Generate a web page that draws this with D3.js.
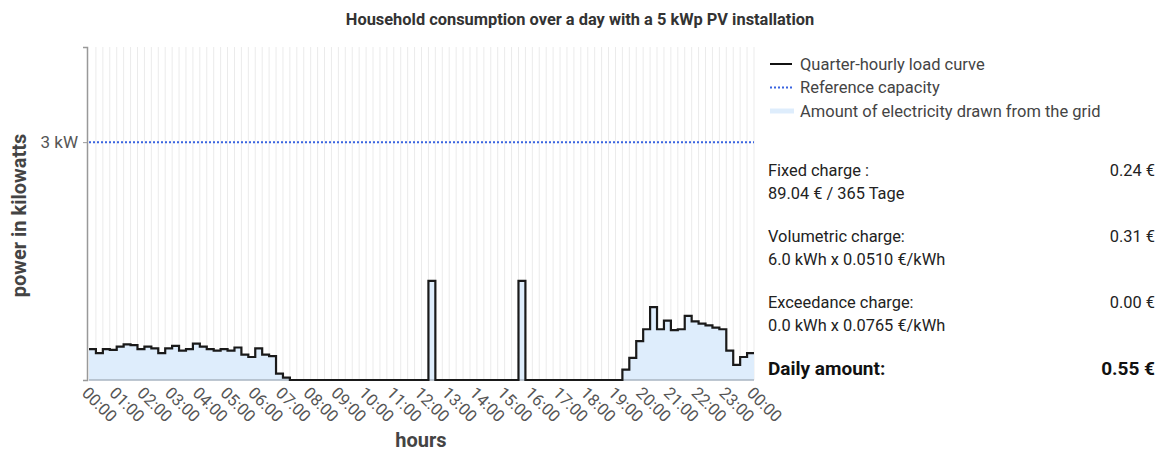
<!DOCTYPE html>
<html>
<head>
<meta charset="utf-8">
<script src="https://cdn.jsdelivr.net/npm/d3@7"></script>
<style>
  body { margin: 0; background: #fff; font-family: Roboto, "Noto Sans", sans-serif; }
  svg text { font-family: Roboto, "Noto Sans", sans-serif; }
</style>
</head>
<body>
<div id="chart"></div>
<script>
///////////// Data /////////////////

// quarter-hourly load in kW, 96 values from 00:00 to 23:45
const load = [
  0.39, 0.34, 0.39, 0.38, 0.42, 0.45, 0.44, 0.39, 0.42, 0.40, 0.34, 0.40, 0.43, 0.37, 0.39, 0.46,
  0.42, 0.39, 0.37, 0.39, 0.37, 0.41, 0.32, 0.29, 0.40, 0.32, 0.30, 0.08, 0.03, 0, 0, 0,
  0, 0, 0, 0, 0, 0, 0, 0, 0, 0, 0, 0, 0, 0, 0, 0,
  0, 1.25, 0, 0, 0, 0, 0, 0, 0, 0, 0, 0, 0, 0, 1.25, 0,
  0, 0, 0, 0, 0, 0, 0, 0, 0, 0, 0, 0, 0, 0.13, 0.28, 0.49,
  0.64, 0.92, 0.64, 0.75, 0.63, 0.64, 0.81, 0.74, 0.71, 0.69, 0.66, 0.64, 0.37, 0.19, 0.29, 0.34
];
const referenceCapacity = 3;
const hourLabels = d3.range(25).map(h => String(h % 24).padStart(2, "0") + ":00");

const legendItems = ["Quarter-hourly load curve", "Reference capacity", "Amount of electricity drawn from the grid"];
const chargeNames = ["Fixed charge :", "Volumetric charge:", "Exceedance charge:"];
const chargeDetails = ["89.04 € / 365 Tage", "6.0 kWh x 0.0510 €/kWh", "0.0 kWh x 0.0765 €/kWh"];
const chargeValues = ["0.24 €", "0.31 €", "0.00 €"];
const totalLabel = "Daily amount:";
const totalValue = "0.55 €";

///////////// Chart /////////////////

const width = 1160, height = 452;
const margin = { top: 47, left: 89, right: 754, bottom: 380 };

let svg = d3.select("#chart")
  .append("svg")
  .attr("width", width)
  .attr("height", height);

let x = d3.scaleLinear().domain([0, 96]).range([margin.left, margin.right]);
let y = d3.scaleLinear().domain([0, 4.2]).range([margin.bottom, margin.top]);

// title
svg.append("text")
  .attr("x", 580).attr("y", 25)
  .attr("text-anchor", "middle")
  .style("font-size", "16.4px").style("font-weight", "bold")
  .style("fill", "#333")
  .text("Household consumption over a day with a 5 kWp PV installation");

// vertical grid, one per quarter hour
svg.append("g")
  .selectAll("line")
  .data(d3.range(1, 97))
  .enter()
  .append("line")
  .attr("x1", d => x(d)).attr("x2", d => x(d))
  .attr("y1", margin.top).attr("y2", margin.bottom)
  .attr("stroke", "#ebebeb")
  .attr("stroke-width", 1);

// points for the step curve (repeat last value to close the day)
let pts = load.map((v, i) => [i, v]);
pts.push([96, load[load.length - 1]]);

let area = d3.area()
  .curve(d3.curveStepAfter)
  .x(d => x(d[0]))
  .y0(y(0))
  .y1(d => y(d[1]));

svg.append("path")
  .datum(pts)
  .attr("d", area)
  .attr("fill", "#deedfc");

// x axis baseline
svg.append("line")
  .attr("x1", x(0)).attr("x2", x(96))
  .attr("y1", y(0)).attr("y2", y(0))
  .attr("stroke", "#a9b4c2").attr("stroke-width", 1.5);

let line = d3.line()
  .curve(d3.curveStepAfter)
  .x(d => x(d[0]))
  .y(d => y(d[1]));

svg.append("path")
  .datum(pts)
  .attr("d", line)
  .attr("fill", "none")
  .attr("stroke", "#1a1a1a")
  .attr("stroke-width", 2.2);

// reference capacity
svg.append("line")
  .attr("x1", x(0)).attr("x2", x(96))
  .attr("y1", y(referenceCapacity)).attr("y2", y(referenceCapacity))
  .attr("stroke", "#3a64e0")
  .attr("stroke-width", 2)
  .attr("stroke-dasharray", "2,2");

// y axis
let yAxis = d3.axisLeft(y)
  .tickValues([0, referenceCapacity])
  .tickFormat(d => d === 0 ? "" : d + " kW")
  .tickSize(4)
  .tickPadding(5);

let yg = svg.append("g")
  .attr("transform", `translate(${margin.left - 2},0)`)
  .call(yAxis);
yg.select(".domain").attr("stroke", "#999").attr("stroke-width", 1.5);
yg.selectAll(".tick line").attr("stroke", "#999");
yg.selectAll("text").style("font-size", "17px").style("fill", "#555")
  .style("font-family", "Roboto, sans-serif");

// x axis labels, every hour, rotated
svg.append("g")
  .selectAll("text")
  .data(hourLabels)
  .enter()
  .append("text")
  .attr("transform", (d, i) => `translate(${x(i * 4) - 4},${margin.bottom + 10}) rotate(45)`)
  .attr("text-anchor", "start")
  .attr("dy", "0.35em")
  .style("font-size", "16.5px")
  .style("fill", "#555")
  .text(d => d);

// axis titles
svg.append("text")
  .attr("x", 421).attr("y", 447)
  .attr("text-anchor", "middle")
  .style("font-size", "20px").style("font-weight", "bold").style("fill", "#444")
  .text("hours");

svg.append("text")
  .attr("transform", `translate(26,${(margin.top + margin.bottom) / 2 + 2}) rotate(-90)`)
  .attr("text-anchor", "middle")
  .style("font-size", "20px").style("font-weight", "bold").style("fill", "#444")
  .text("power in kilowatts");

///////////// Legend /////////////////

let legend = svg.append("g").attr("transform", "translate(770,64)");
legendItems.forEach((label, i) => {
  let g = legend.append("g").attr("transform", `translate(0,${i * 23.5})`);
  if (i === 0) {
    g.append("line").attr("x1", 0).attr("x2", 22).attr("stroke", "#111").attr("stroke-width", 2);
  } else if (i === 1) {
    g.append("line").attr("x1", 0).attr("x2", 22).attr("stroke", "#3a64e0")
      .attr("stroke-width", 2).attr("stroke-dasharray", "2,2");
  } else {
    g.append("line").attr("x1", 0).attr("x2", 24).attr("stroke", "#deedfc").attr("stroke-width", 5);
  }
  g.append("text")
    .attr("x", 30).attr("y", 0)
    .attr("dy", "0.35em")
    .style("font-size", "16.5px").style("fill", "#444")
    .text(label);
});

///////////// Charges panel /////////////////

let panel = svg.append("g");
chargeNames.forEach((name, i) => {
  let top = 176 + i * 66;
  panel.append("text").attr("x", 768).attr("y", top)
    .style("font-size", "16.4px").style("fill", "#222").text(name);
  panel.append("text").attr("x", 768).attr("y", top + 22.5)
    .style("font-size", "16.4px").style("fill", "#222").text(chargeDetails[i]);
  panel.append("text").attr("x", 1155).attr("y", top)
    .attr("text-anchor", "end")
    .style("font-size", "16.4px").style("fill", "#222").text(chargeValues[i]);
});

panel.append("text").attr("x", 768).attr("y", 375)
  .style("font-size", "19px").style("font-weight", "bold").style("fill", "#111")
  .text(totalLabel);
panel.append("text").attr("x", 1155).attr("y", 375)
  .attr("text-anchor", "end")
  .style("font-size", "19px").style("font-weight", "bold").style("fill", "#111")
  .text(totalValue);
</script>
</body>
</html>
